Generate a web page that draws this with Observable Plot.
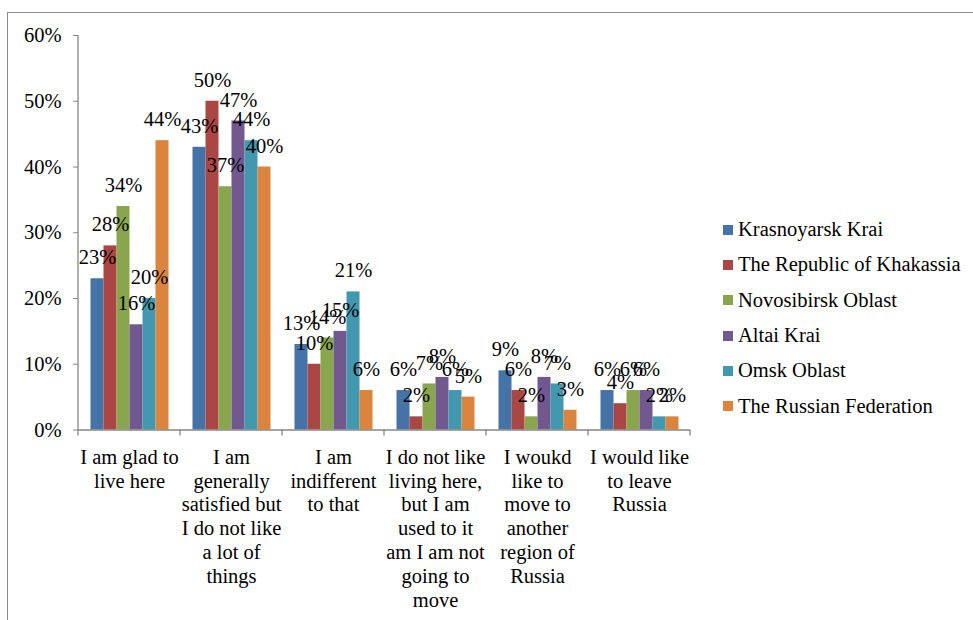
<!DOCTYPE html>
<html><head><meta charset="utf-8">
<script src="https://cdn.jsdelivr.net/npm/d3@7"></script>
<script src="https://cdn.jsdelivr.net/npm/@observablehq/plot@0.6"></script>
<style>
html,body{margin:0;padding:0;background:#fff;overflow:hidden}
#wrap{position:relative;width:973px;height:620px;overflow:hidden;font-family:"Liberation Serif","Times New Roman","DejaVu Serif",serif}
#border{position:absolute;left:7px;top:11.5px;width:1000px;height:700px;border:1.5px solid #8a8a8a;box-sizing:border-box}
#chart{position:absolute;left:0;top:0}
#legend{position:absolute;left:723px;top:212px}
.item{display:flex;align-items:center;height:35.3px;font-size:20.5px;color:#000;white-space:nowrap}
.sw{width:10px;height:10px;margin-right:5px}
</style></head>
<body>
<div id="wrap"><div id="border"></div><div id="chart"></div><div id="legend"></div></div>
<script>
const categories = [
  "I am glad to live here",
  "I am generally satisfied but I do not like a lot of things",
  "I am indifferent to that",
  "I do not like living here, but I am used to it am I am not going to move",
  "I woukd like to move to another region of Russia",
  "I would like to leave Russia"
];
const categoryLabels = [
  "I am glad to\nlive here",
  "I am\ngenerally\nsatisfied but\nI do not like\na lot of\nthings",
  "I am\nindifferent\nto that",
  "I do not like\nliving here,\nbut I am\nused to it\nam I am not\ngoing to\nmove",
  "I woukd\nlike to\nmove to\nanother\nregion of\nRussia",
  "I would like\nto leave\nRussia"
];
const seriesNames = ["Krasnoyarsk Krai","The Republic of Khakassia","Novosibirsk Oblast","Altai Krai","Omsk Oblast","The Russian Federation"];
const colors = ["#4572A7","#AA4643","#89A54E","#71588F","#4198AF","#DB843D"];
const krasnoyarsk = [23,43,13,6,9,6];
const khakassia   = [28,50,10,2,6,4];
const novosibirsk = [34,37,14,7,2,6];
const altai       = [16,47,15,8,8,6];
const omsk        = [20,44,21,6,7,2];
const russia      = [44,40,6,5,3,2];
const yTicks = [0,10,20,30,40,50,60];

const seriesValues = [krasnoyarsk, khakassia, novosibirsk, altai, omsk, russia];
const data = [];
categories.forEach((c, i) => seriesNames.forEach((s, j) => data.push({category: c, series: s, value: seriesValues[j][i]})));
const labelMap = new Map(categories.map((c, i) => [c, categoryLabels[i]]));

const font = '"Liberation Serif","Times New Roman","DejaVu Serif",serif';
const axisColor = "#868686";

const plot = Plot.plot({
  width: 973, height: 620,
  marginLeft: 77.5, marginRight: 282, marginTop: 35, marginBottom: 190.5,
  style: {fontFamily: font, fontSize: "20.5px", color: "#000", background: "transparent"},
  fx: {domain: categories, padding: 0, label: null},
  x: {domain: seriesNames, paddingInner: 0, paddingOuter: 0.76, axis: null},
  y: {domain: [0, 60], label: null},
  color: {domain: seriesNames, range: colors},
  marks: [
    Plot.barY(data, {fx: "category", x: "series", y: "value", fill: "series"}),
    Plot.ruleY([0], {stroke: axisColor, strokeWidth: 1.3}),
    Plot.text(data, {fx: "category", x: "series", y: "value", text: d => d.value + "%", dy: -21, fontSize: 20.5, fill: "#000"}),
    Plot.axisY({ticks: yTicks, tickFormat: d => d + "%", tickSize: 5, tickPadding: 12, stroke: axisColor, fill: "#000", fontSize: 20.5, label: null}),
    Plot.axisFx({anchor: "bottom", tickSize: 0, tickPadding: 16.5, tickFormat: d => labelMap.get(d), lineHeight: 1.17, fontSize: 20.5, fill: "#000", label: null})
  ]
});
document.getElementById("chart").appendChild(plot);

// axis line and category boundary ticks from the plot's scales
const fx = plot.scale("fx"), y = plot.scale("y");
const svgEl = plot.tagName.toLowerCase() === "svg" ? plot : plot.querySelector("svg");
const svg = d3.select(svgEl);
const x0 = fx.apply(categories[0]);
const y0 = y.apply(0), yTop = y.apply(60);
const g = svg.append("g").attr("stroke", axisColor).attr("stroke-width", 1.3);
g.append("line").attr("x1", x0).attr("x2", x0).attr("y1", yTop).attr("y2", y0);
const bounds = categories.map(c => fx.apply(c));
bounds.push(fx.apply(categories[categories.length - 1]) + fx.bandwidth);
bounds.forEach(b => g.append("line").attr("x1", b).attr("x2", b).attr("y1", y0).attr("y2", y0 + 6));

// legend
const legend = d3.select("#legend");
seriesNames.forEach((s, i) => {
  const it = legend.append("div").attr("class", "item");
  it.append("div").attr("class", "sw").style("background", colors[i]);
  it.append("span").text(s);
});
</script>
</body></html>
